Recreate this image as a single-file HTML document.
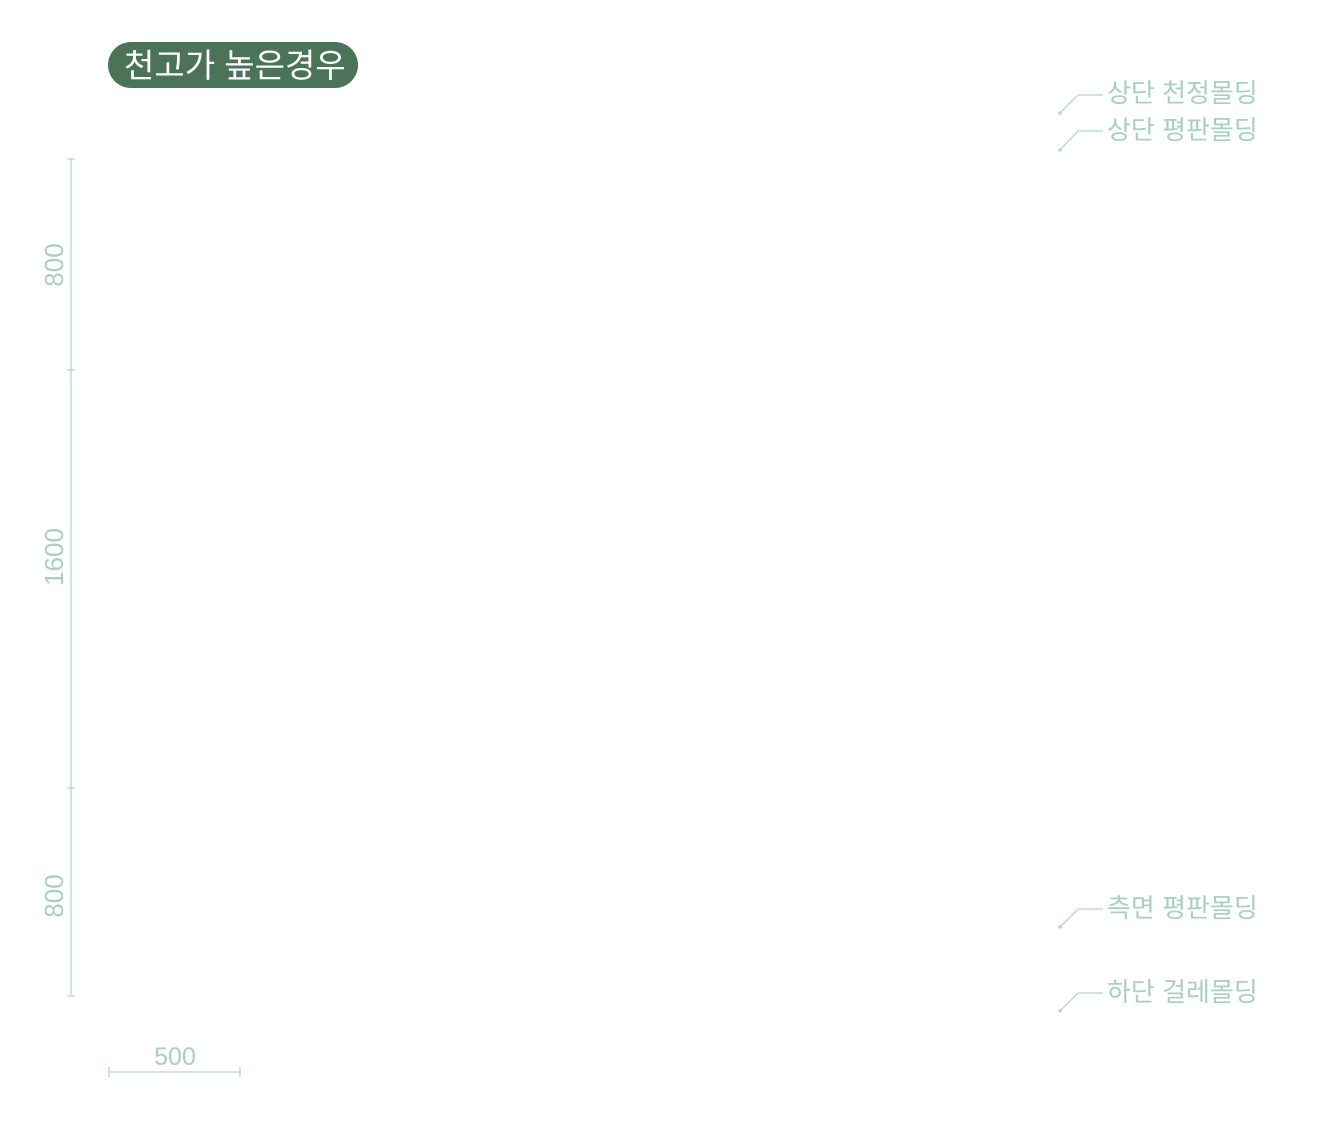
<!DOCTYPE html>
<html><head><meta charset="utf-8"><style>
html,body{margin:0;padding:0;background:#fff;width:1318px;height:1129px;overflow:hidden}
svg{display:block}
text{font-family:"Liberation Sans","Noto Sans CJK KR",sans-serif}
</style></head><body>
<svg width="1318" height="1129" viewBox="0 0 1318 1129" xmlns="http://www.w3.org/2000/svg">
<rect x="108" y="42" width="250" height="46" rx="23" fill="#4a7358"/>
<text x="124" y="77" font-size="33" fill="#fff" font-family="Noto Sans CJK KR, sans-serif">천고가 높은경우</text>
<g stroke="#b5d8cc" stroke-width="1.3" fill="none">
<line x1="71" y1="159" x2="71" y2="996"/>
<line x1="67" y1="159" x2="75" y2="159"/>
<line x1="67" y1="370" x2="75" y2="370"/>
<line x1="67" y1="788" x2="75" y2="788"/>
<line x1="67" y1="996" x2="75" y2="996"/>
<line x1="109" y1="1072" x2="240" y2="1072"/>
<line x1="109" y1="1067" x2="109" y2="1077"/>
<line x1="240" y1="1067" x2="240" y2="1077"/>
<polyline points="1060,113 1078,95 1103,95"/>
<polyline points="1060,150 1078,131 1103,131"/>
<polyline points="1060,927 1078,909 1103,909"/>
<polyline points="1060,1011 1078,993 1103,993"/>
</g>
<g fill="#b5d8cc">
<circle cx="1060" cy="113" r="1.8"/><circle cx="1060" cy="150" r="1.8"/>
<circle cx="1060" cy="927" r="1.8"/><circle cx="1060" cy="1011" r="1.8"/>
</g>
<g fill="#a8d0c2" font-size="26" text-anchor="middle">
<text transform="translate(63,265) rotate(-90)">800</text>
<text transform="translate(63,557) rotate(-90)">1600</text>
<text transform="translate(63,896) rotate(-90)">800</text>
<text x="175" y="1065" font-size="25">500</text>
</g>
<g fill="#a8d0c2" font-size="26" font-family="Noto Sans CJK KR, sans-serif">
<text x="1107" y="102">상단 천정몰딩</text>
<text x="1107" y="139">상단 평판몰딩</text>
<text x="1107" y="917">측면 평판몰딩</text>
<text x="1107" y="1001">하단 걸레몰딩</text>
</g>
</svg>
</body></html>
